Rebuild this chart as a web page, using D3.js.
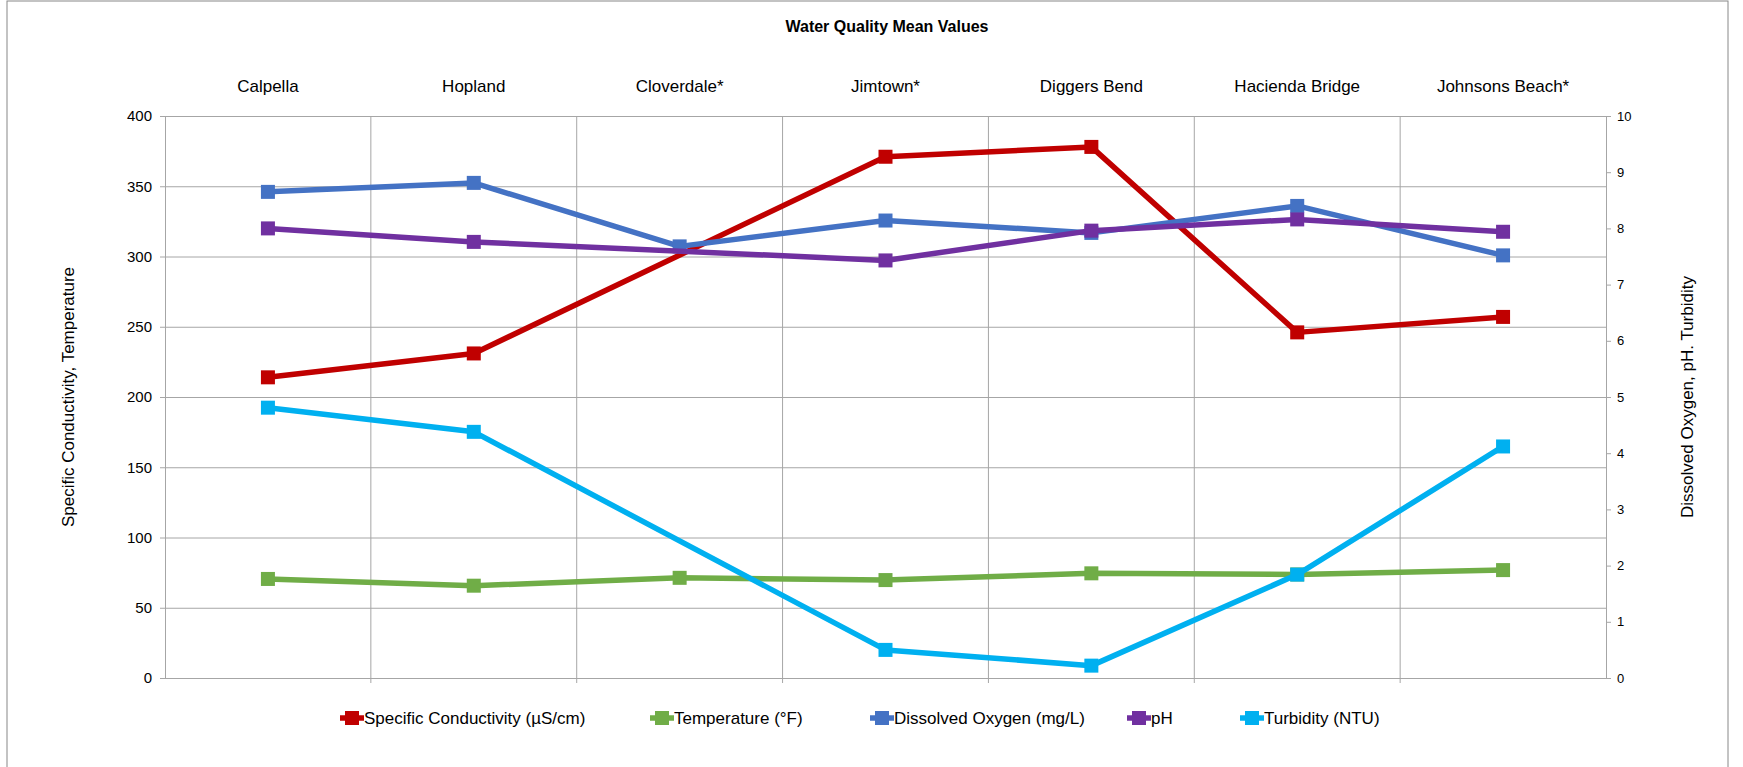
<!DOCTYPE html>
<html>
<head>
<meta charset="utf-8">
<script src="https://cdn.jsdelivr.net/npm/d3@7"></script>
<style>
  body { margin: 0; background: #fff; }
  svg text { font-family: "Liberation Sans", Arial, sans-serif; fill: #000; }
  .legend text { font-family: "Liberation Sans Narrow", "Liberation Sans", sans-serif; }
</style>
</head>
<body>
<svg id="chart" width="1743" height="767"></svg>
<script>
const sites = ['Calpella', 'Hopland', 'Cloverdale*', 'Jimtown*', 'Diggers Bend', 'Hacienda Bridge', 'Johnsons Beach*'];

// left axis series
const conductivity = [214, 231, null, 371, 378, 246, 257];
const temperature = [70.5, 65.7, 71.3, 69.7, 74.5, 73.7, 76.8];
// right axis series
const dissolvedOxygen = [8.65, 8.81, 7.68, 8.14, 7.92, 8.4, 7.52];
const pH = [8.0, 7.76, null, 7.43, 7.96, 8.16, 7.94];
const turbidity = [4.81, 4.38, null, 0.5, 0.22, 1.84, 4.12];

const leftTicks = [0, 50, 100, 150, 200, 250, 300, 350, 400];
const rightTicks = [0, 1, 2, 3, 4, 5, 6, 7, 8, 9, 10];

const series = [
    { name: 'Specific Conductivity (µS/cm)', values: conductivity, axis: 'left', color: '#C00000' },
    { name: 'Temperature  (°F)', values: temperature, axis: 'left', color: '#70AD47' },
    { name: 'Dissolved Oxygen (mg/L)', values: dissolvedOxygen, axis: 'right', color: '#4472C4' },
    { name: 'pH', values: pH, axis: 'right', color: '#7030A0' },
    { name: 'Turbidity (NTU)', values: turbidity, axis: 'right', color: '#00B0F0' }
];

const margin = { top: 116, left: 165, right: 137, bottom: 89 };
const width = 1743, height = 767;
const svg = d3.select('#chart');

// outer frame
svg.append('rect').attr('x', 7).attr('y', 1).attr('width', 1721).attr('height', 780)
    .attr('fill', 'none').attr('stroke', '#888').attr('stroke-width', 1);

const x = d3.scaleBand().domain(sites).range([margin.left, width - margin.right]);
const yL = d3.scaleLinear().domain([0, 400]).range([height - margin.bottom, margin.top]);
const yR = d3.scaleLinear().domain([0, 10]).range([height - margin.bottom, margin.top]);

// horizontal grid
svg.append('g').attr('transform', `translate(${margin.left},0)`)
    .call(d3.axisLeft(yL).tickValues(leftTicks).tickSize(-(width - margin.left - margin.right)).tickFormat(''))
    .call(g => g.select('.domain').remove())
    .call(g => g.selectAll('line').attr('stroke', '#a6a6a6'));

// vertical grid at band boundaries
svg.append('g').selectAll('line').data(sites.slice(1)).enter().append('line')
    .attr('x1', d => x(d)).attr('x2', d => x(d))
    .attr('y1', margin.top).attr('y2', height - margin.bottom + 5)
    .attr('stroke', '#a6a6a6');

// axes
const axL = svg.append('g').attr('transform', `translate(${margin.left},0)`)
    .call(d3.axisLeft(yL).tickValues(leftTicks).tickSize(5).tickPadding(8));
const axR = svg.append('g').attr('transform', `translate(${width - margin.right},0)`)
    .call(d3.axisRight(yR).tickValues(rightTicks).tickSize(5).tickPadding(6));
const axB = svg.append('g').attr('transform', `translate(0,${height - margin.bottom})`)
    .call(d3.axisBottom(x).tickSize(0).tickFormat(''));
[axL, axR, axB].forEach(a => {
    a.selectAll('.domain, line').attr('stroke', '#a6a6a6');
    a.selectAll('text').attr('font-size', 15).attr('font-family', '"Liberation Sans", Arial, sans-serif');
});
axR.selectAll('text').attr('font-size', 13);

// category labels on top
svg.append('g').selectAll('text').data(sites).enter().append('text')
    .attr('x', d => x(d) + x.bandwidth() / 2).attr('y', 92)
    .attr('text-anchor', 'middle').attr('font-size', 17).text(d => d);

// title
svg.append('text').attr('x', 887).attr('y', 32).attr('text-anchor', 'middle')
    .attr('font-size', 16).attr('font-weight', 'bold')
    .attr('font-family', '"Liberation Sans Narrow", "Liberation Sans", sans-serif')
    .text('Water Quality Mean Values');

// axis titles
svg.append('text').attr('transform', `translate(74,${(margin.top + height - margin.bottom) / 2}) rotate(-90)`)
    .attr('text-anchor', 'middle').attr('font-size', 17).text('Specific Conductivity, Temperature');
svg.append('text').attr('transform', `translate(1693,${(margin.top + height - margin.bottom) / 2}) rotate(-90)`)
    .attr('text-anchor', 'middle').attr('font-size', 17).text('Dissolved Oxygen, pH. Turbidity');

// lines and markers
const cx = d => x(d) + x.bandwidth() / 2;
series.forEach(s => {
    const y = s.axis === 'left' ? yL : yR;
    const pts = sites.map((site, i) => ({ site, v: s.values[i] })).filter(p => p.v !== null);
    svg.append('path').datum(pts)
        .attr('fill', 'none').attr('stroke', s.color).attr('stroke-width', 5.5)
        .attr('stroke-linejoin', 'round')
        .attr('d', d3.line().x(p => cx(p.site)).y(p => y(p.v)));
    svg.append('g').selectAll('rect').data(pts).enter().append('rect')
        .attr('x', p => cx(p.site) - 7).attr('y', p => y(p.v) - 7)
        .attr('width', 14).attr('height', 14).attr('fill', s.color);
});

// legend
const legendX = [340, 650, 870, 1127, 1240];
const legend = svg.append('g').attr('class', 'legend');
series.forEach((s, i) => {
    const g = legend.append('g').attr('transform', `translate(${legendX[i]},718)`);
    g.append('line').attr('x1', 0).attr('x2', 24).attr('stroke', s.color).attr('stroke-width', 5.5);
    g.append('rect').attr('x', 5).attr('y', -7).attr('width', 14).attr('height', 14).attr('fill', s.color);
    g.append('text').attr('x', 24).attr('y', 6).attr('font-size', 17).text(s.name);
});
</script>
</body>
</html>
